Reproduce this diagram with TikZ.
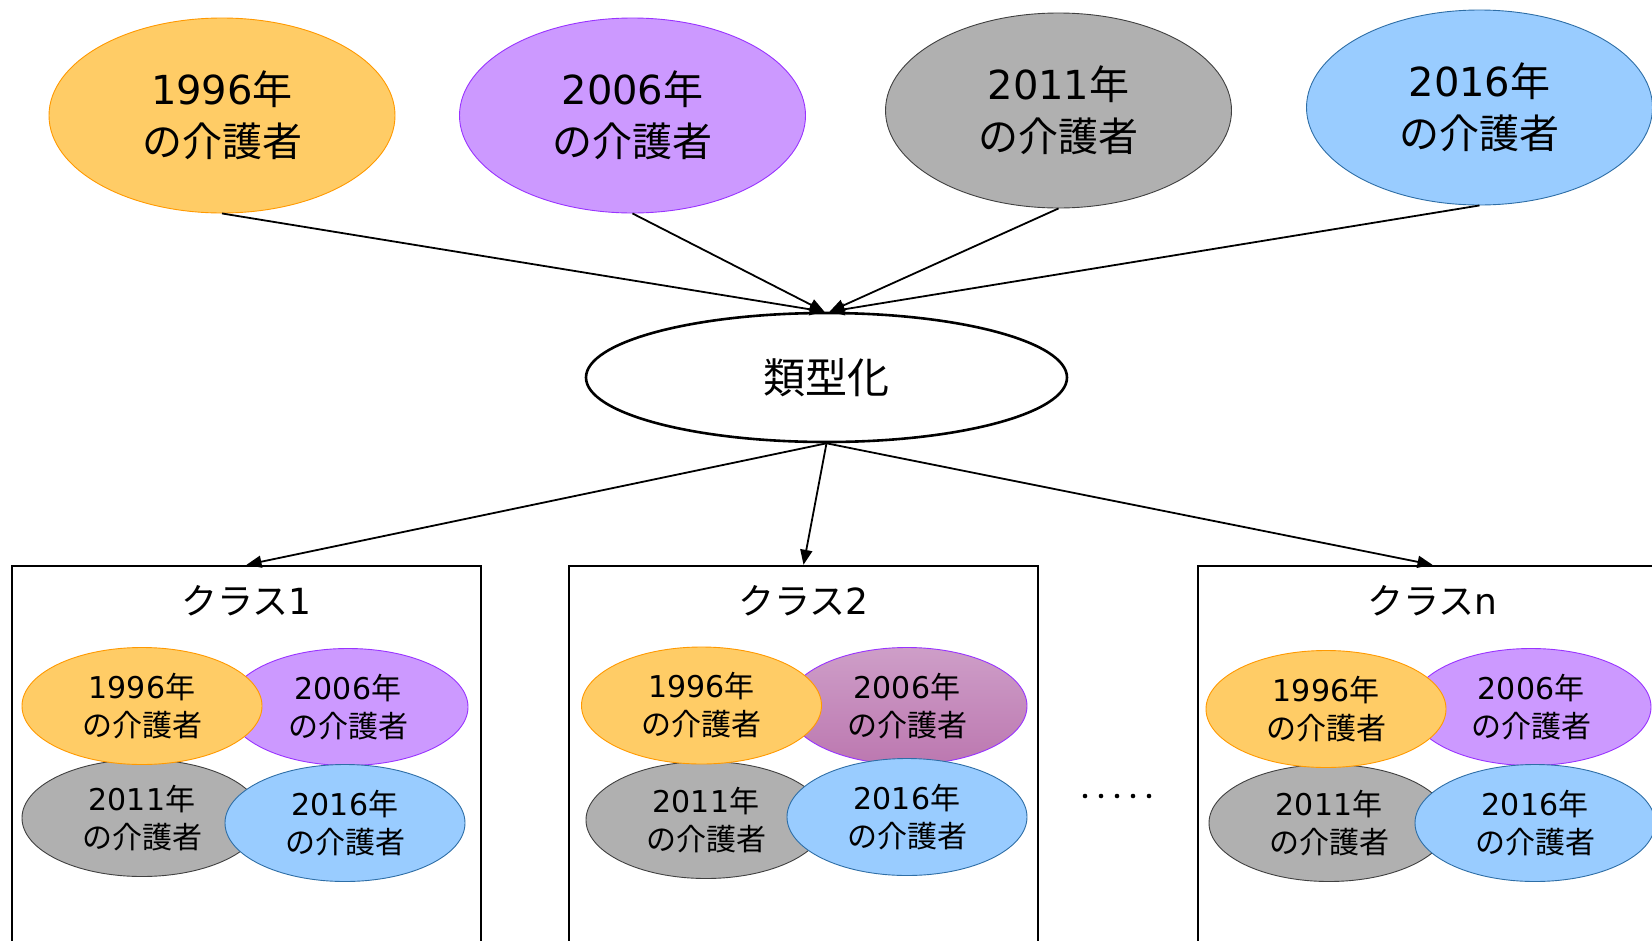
\documentclass[tikz,border=0pt]{standalone}
\usepackage{fontspec}
\setmainfont{Noto Sans CJK JP}
\newfontfamily\lat{DejaVu Sans}
\newcommand{\yr}[1]{{\lat #1}年\\の介護者}
\usetikzlibrary{shapes.geometric,arrows.meta}
\definecolor{orF}{RGB}{255,204,102}
\definecolor{orD}{RGB}{255,153,0}
\definecolor{puF}{RGB}{204,153,255}
\definecolor{puD}{RGB}{153,51,255}
\definecolor{grF}{RGB}{176,176,176}
\definecolor{grD}{RGB}{64,64,64}
\definecolor{blF}{RGB}{153,204,255}
\definecolor{blD}{RGB}{46,110,166}
\definecolor{mvT}{RGB}{206,158,200}
\definecolor{mvB}{RGB}{188,120,176}
\begin{document}
\begin{tikzpicture}[x=1pt,y=-1pt,
  big/.style={ellipse,minimum width=346pt,minimum height=195pt,inner sep=0pt,line width=0.9pt,font=\fontsize{40}{52}\selectfont,align=center},
  small/.style={ellipse,minimum width=240pt,minimum height=117pt,inner sep=0pt,line width=0.9pt,font=\fontsize{30}{38}\selectfont,align=center},
  cor/.style={draw=orD,fill=orF},
  cpu/.style={draw=puD,fill=puF},
  cgr/.style={draw=grD,fill=grF},
  cbl/.style={draw=blD,fill=blF},
  cmv/.style={draw=puD,top color=mvT,bottom color=mvB},
  typ/.style={ellipse,draw,line width=2.6pt,minimum width=481pt,minimum height=129pt,inner sep=0pt,font=\fontsize{42}{50}\selectfont},
  conn/.style={line width=1.8pt,-{Triangle[length=15pt,width=12pt]}},
  cbox/.style={draw,line width=2.4pt,minimum width=469pt,minimum height=400pt,inner sep=0pt},
  clab/.style={font=\fontsize{36}{42}\selectfont,inner sep=0pt}
]
\useasboundingbox (0,0) rectangle (1652,940);
\clip (0,0) rectangle (1652,940);

% top ellipses
\node[big,cor] (t1) at (222,115.5) {\yr{1996}};
\node[big,cpu] (t2) at (632.5,115.5) {\yr{2006}};
\node[big,cgr] (t3) at (1058.5,110.5) {\yr{2011}};
\node[big,cbl] (t4) at (1479.5,107.5) {\yr{2016}};

% central
\node[typ] (ty) at (826.5,377.5) {類型化};

\draw[conn] (t1.south) -- ([xshift=-2pt]ty.north);
\draw[conn] (t2.south) -- ([xshift=-2pt]ty.north);
\draw[conn] (t3.south) -- ([xshift=3pt]ty.north);
\draw[conn] (t4.south) -- ([xshift=3pt]ty.north);

% boxes
\node[cbox] (b1) at (246.5,766) {};
\node[cbox] (b2) at (803.5,766) {};
\node[cbox] (b3) at (1432.5,766) {};

\draw[conn] (ty.south) -- (b1.north);
\draw[conn] (ty.south) -- (b2.north);
\draw[conn] (ty.south) -- (b3.north);

\node[clab] (l1) at ([yshift=-36pt]b1.north) {クラス{\lat 1}};
\node[clab] (l2) at ([yshift=-36pt]b2.north) {クラス{\lat 2}};
\node[clab] (l3) at ([yshift=-36pt]b3.north) {クラス{\lat n}};

% class 1
\node[small,cpu] (a2) at (348,707) {\yr{2006}};
\node[small,cgr] (a3) at (142,818) {\yr{2011}};
\node[small,cbl] (a4) at (345,823) {\yr{2016}};
\node[small,cor] (a1) at (142,706) {\yr{1996}};

% class 2
\node[small,cmv] (c2) at (907,706) {\yr{2006}};
\node[small,cgr] (c3) at (706,820) {\yr{2011}};
\node[small,cbl] (c4) at (907,817) {\yr{2016}};
\node[small,cor] (c1) at (701.5,705.5) {\yr{1996}};

% class n
\node[small,cpu] (n2) at (1531,707) {\yr{2006}};
\node[small,cgr] (n3) at (1329,823) {\yr{2011}};
\node[small,cbl] (n4) at (1535,823) {\yr{2016}};
\node[small,cor] (n1) at (1326,709) {\yr{1996}};

% dots
\foreach \x in {1085,1101,1117,1133,1149} \fill (\x,796) circle (2.3pt);
\end{tikzpicture}
\end{document}
